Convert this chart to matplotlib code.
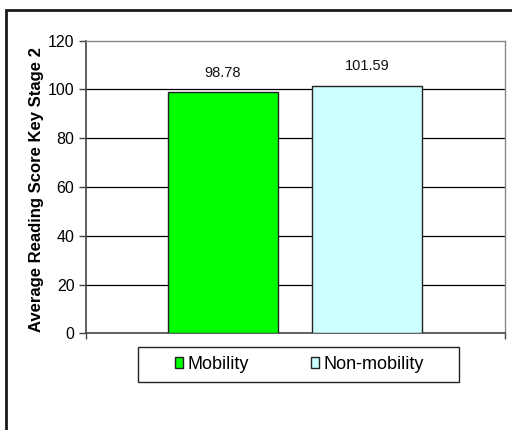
import matplotlib
matplotlib.use("Agg")
import matplotlib.pyplot as plt
from matplotlib.patches import Rectangle

plt.rcParams['font.family'] = ['Liberation Sans', 'DejaVu Sans']

series = ["Mobility", "Non-mobility"]
values = [98.78, 101.59]
value_labels = ["98.78", "101.59"]
colors = ["#00FF00", "#CCFFFF"]
yticks = [0, 20, 40, 60, 80, 100, 120]
ylabel = "Average Reading Score Key Stage 2"

fig = plt.figure(figsize=(5.12, 4.30), dpi=100)
W, H = 512, 430

# outer chart frame
fig.patches.append(Rectangle((6 / W, -0.2), 1.2, 1 - 10 / H + 0.2,
                             transform=fig.transFigure, fill=False,
                             edgecolor="#1a1a1a", linewidth=2, zorder=0))

ax = fig.add_axes([85.5 / W, 1 - 333.3 / H, (505 - 85.5) / W, (333.3 - 40.7) / H])
ax.set_xlim(0, 1)
ax.set_ylim(0, 120)

centers = [0.3274, 0.6707]
width = 0.263
bars = []
for c, v, col, name in zip(centers, values, colors, series):
    b = ax.bar(c, v, width=width, color=col, edgecolor="#222222", linewidth=1.0,
               label=name, zorder=3)
    bars.append(b)

for c, v, lab in zip(centers, values, value_labels):
    ax.text(c, v + 5, lab, ha="center", va="bottom", fontsize=10.5, color="#111111")

ax.set_yticks(yticks)
ax.set_yticklabels([str(t) for t in yticks], fontsize=11.5)
for t in yticks[1:-1]:
    ax.axhline(t, color="black", linewidth=0.9, zorder=1)

ax.set_xticks([0, 1])
ax.set_xticklabels(["", ""])
ax.tick_params(axis="x", direction="out", length=4, width=1, color="#444444")
ax.tick_params(axis="y", direction="out", length=5, width=1, color="#444444", pad=3)

for s in ["top", "right"]:
    ax.spines[s].set_color("#888888")
    ax.spines[s].set_linewidth(1)
for s in ["left", "bottom"]:
    ax.spines[s].set_color("#444444")
    ax.spines[s].set_linewidth(1.2)

ax.set_ylabel(ylabel, fontsize=12, fontweight="bold")
ax.yaxis.set_label_coords(-0.1, 0.49)

# legend frame
fig.patches.append(Rectangle((138 / W, 1 - 382 / H), (459 - 138) / W, 35 / H,
                             transform=fig.transFigure, fill=True, facecolor="white",
                             edgecolor="#222222", linewidth=1, zorder=1))

leg = fig.legend(handles=[b[0] for b in bars], labels=series, ncol=2,
                 loc="center left", bbox_to_anchor=(175 / W, 1 - 364.5 / H),
                 fontsize=13, frameon=False,
                 handlelength=0.45, handleheight=0.5, handletextpad=0.25,
                 columnspacing=3.42, borderpad=0, borderaxespad=0)

fig.savefig("out.png", dpi=100)
